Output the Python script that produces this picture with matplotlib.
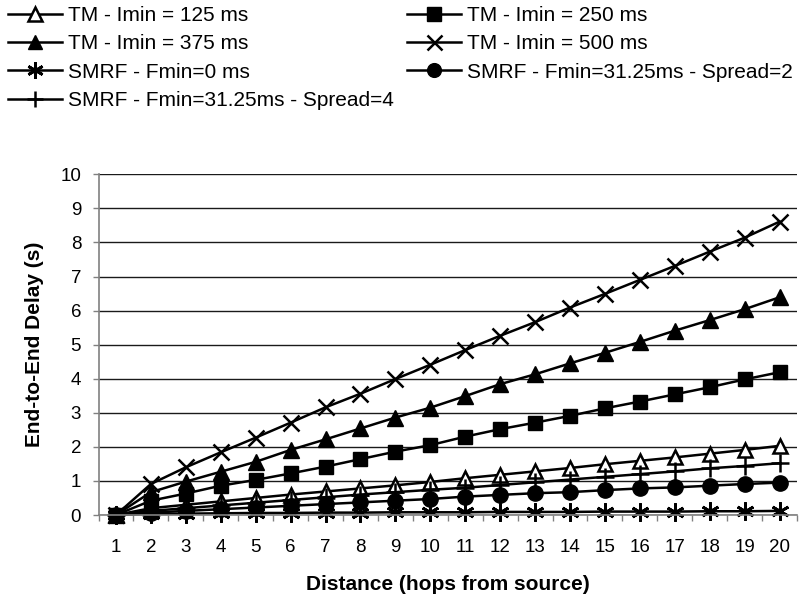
import numpy as np
import matplotlib
matplotlib.use("Agg")
import matplotlib.pyplot as plt
from matplotlib.ticker import FixedLocator, NullFormatter, FixedFormatter

# hops from source
hops = list(range(1, 21))

tm_125 = [0, 0.20, 0.30, 0.40, 0.50, 0.60, 0.69, 0.78, 0.87, 0.97,
          1.08, 1.18, 1.28, 1.38, 1.49, 1.59, 1.69, 1.80, 1.91, 2.03]
tm_250 = [0, 0.42, 0.63, 0.86, 1.03, 1.22, 1.42, 1.64, 1.86, 2.05,
          2.30, 2.52, 2.71, 2.91, 3.13, 3.33, 3.54, 3.75, 3.98, 4.19]
tm_375 = [0, 0.67, 0.98, 1.27, 1.56, 1.91, 2.22, 2.54, 2.86, 3.15,
          3.49, 3.84, 4.13, 4.45, 4.76, 5.08, 5.41, 5.72, 6.04, 6.39]
tm_500 = [0, 0.91, 1.40, 1.84, 2.27, 2.71, 3.16, 3.56, 3.99, 4.41,
          4.84, 5.26, 5.66, 6.09, 6.49, 6.90, 7.31, 7.73, 8.14, 8.61]
smrf_0 = [0, 0.03, 0.04, 0.05, 0.06, 0.06, 0.07, 0.07, 0.08, 0.08,
          0.08, 0.09, 0.09, 0.09, 0.10, 0.10, 0.10, 0.11, 0.11, 0.12]
smrf_s2 = [0, 0.07, 0.12, 0.17, 0.22, 0.27, 0.32, 0.37, 0.42, 0.47,
           0.54, 0.59, 0.64, 0.67, 0.73, 0.78, 0.81, 0.86, 0.91, 0.95]
smrf_s4 = [0, 0.12, 0.20, 0.28, 0.36, 0.44, 0.52, 0.60, 0.67, 0.74,
           0.80, 0.88, 0.96, 1.04, 1.12, 1.20, 1.28, 1.37, 1.44, 1.52]

labels = ["TM - Imin = 125 ms", "TM - Imin = 250 ms", "TM - Imin = 375 ms",
          "TM - Imin = 500 ms", "SMRF - Fmin=0 ms",
          "SMRF - Fmin=31.25ms - Spread=2", "SMRF - Fmin=31.25ms - Spread=4"]

plt.rcParams['font.family'] = ['Liberation Sans', 'DejaVu Sans']

W, H = 807, 599
fig = plt.figure(figsize=(W / 100, H / 100), dpi=100)
# plot area in pixels: left 98.5, right 797, top 174.3, bottom 515
ax = fig.add_axes([98.5 / W, 1 - 515 / H, (797 - 98.5) / W, (515 - 174.3) / H])

x = np.arange(len(hops))
series = [tm_125, tm_250, tm_375, tm_500, smrf_0, smrf_s2, smrf_s4]
styles = [
    dict(marker='^', ms=10.5, mfc='white', mec='black', mew=1.8),
    dict(marker='s', ms=10.5, mfc='black', mec='black'),
    dict(marker='^', ms=11.5, mfc='black', mec='black'),
    dict(marker='x', ms=12, mec='black', mew=1.8),
    dict(marker=(6, 2, 0), ms=13, mec='black', mew=2.0),
    dict(marker='o', ms=11, mfc='black', mec='black'),
    dict(marker='+', ms=13, mec='black', mew=1.8),
]

lines = []
for s, st, lab in zip(series, styles, labels):
    ln, = ax.plot(x, s, color='black', lw=1.8, label=lab, clip_on=False, **st)
    lines.append(ln)

ax.set_xlim(-0.5, len(hops) - 0.5)
ax.set_ylim(0, 10)
ax.set_yticks(range(0, 11))
ax.yaxis.grid(True, color='#1a1a1a', lw=1.0)
ax.set_axisbelow(True)

# category axis: ticks between categories, labels in the middle
ax.xaxis.set_major_locator(FixedLocator(np.arange(-0.5, len(hops), 1.0)))
ax.xaxis.set_major_formatter(NullFormatter())
ax.xaxis.set_minor_locator(FixedLocator(x))
ax.xaxis.set_minor_formatter(FixedFormatter([str(h) for h in hops]))
ax.tick_params(axis='x', which='minor', length=0, labelsize=13.5, pad=17)
ax.tick_params(axis='x', which='major', length=4.5, width=1.0, color='#808080', direction='out')
ax.tick_params(axis='y', length=4.5, width=1.0, color='#808080', labelsize=13.5, pad=8)

for side in ['top', 'right']:
    ax.spines[side].set_visible(False)
for side in ['left', 'bottom']:
    ax.spines[side].set_color('#808080')
    ax.spines[side].set_linewidth(1.2)

fig.text(447.7 / W, 1 - 585 / H, "Distance (hops from source)", fontsize=15,
         fontweight='bold', ha='center', va='center')
fig.text(35 / W, 1 - 344.6 / H, "End-to-End Delay (s)", fontsize=15,
         fontweight='bold', ha='center', va='center', rotation=90)

# legend laid out row by row
order = [0, 2, 4, 6, 1, 3, 5]
fig.legend([lines[i] for i in order], [labels[i] for i in order],
           ncol=2, loc='upper left', bbox_to_anchor=(8 / W, 1 - 6 / H),
           frameon=False, fontsize=15, handlelength=2.6, handletextpad=0.3,
           columnspacing=0.6, labelspacing=0.45, borderpad=0, borderaxespad=0,
           markerscale=0.9)

fig.savefig("out.png", dpi=100)
